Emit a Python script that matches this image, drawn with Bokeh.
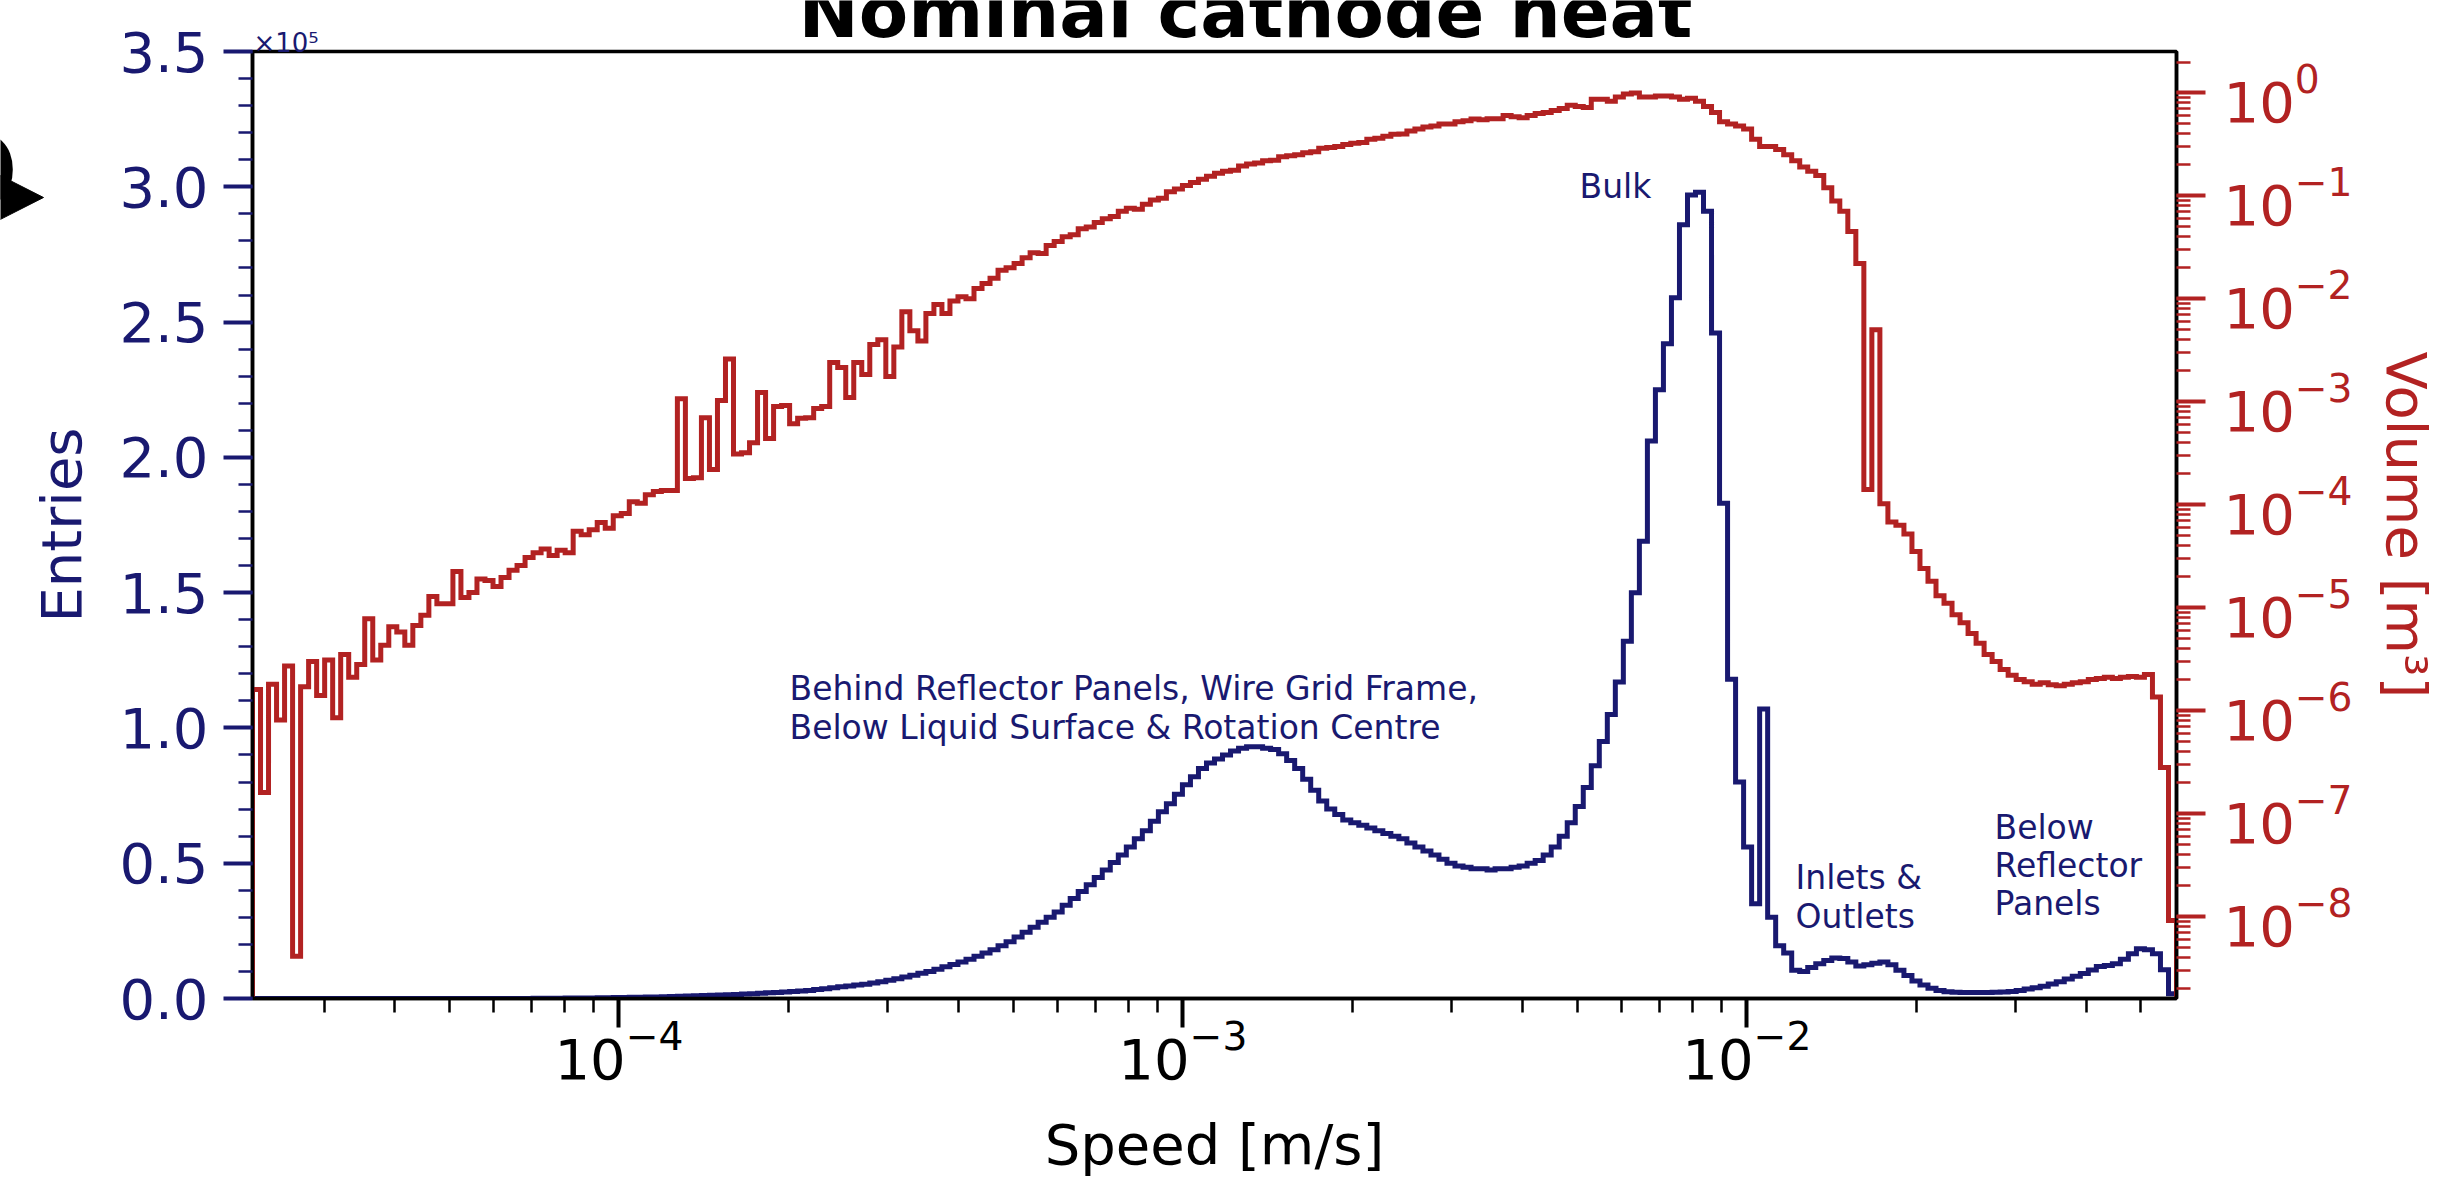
import numpy as np
from bokeh.plotting import figure
from bokeh.models import (Range1d, LogAxis, LogScale, FixedTicker, LogTicker,
                          NumeralTickFormatter, Label)
from bokeh.embed import file_html
from bokeh.resources import INLINE

# ---------------- data ----------------
speed_lo = 2.24e-5      # first bin edge [m/s]
speed_hi = 5.78e-2      # last bin edge [m/s]
n_bins = 240            # log-spaced bins

# Entries per bin, in units of 10^5
entries_e5 = [
    0, 0, 0, 0, 0, 0, 0, 0, 0, 0,
    0, 0, 0, 0, 0, 0, 0, 0, 0, 0,
    0, 0, 0, 0, 0, 0, 0, 0, 0, 0,
    0, 0, 0, 0, 0.0003, 0.0005, 0.0007, 0.001, 0.0012, 0.0015,
    0.0018, 0.002, 0.0023, 0.0026, 0.003, 0.0034, 0.0038, 0.0043, 0.0048, 0.0054,
    0.006, 0.0067, 0.0074, 0.0082, 0.009, 0.0098, 0.0107, 0.0117, 0.0128, 0.014,
    0.0152, 0.0165, 0.018, 0.0195, 0.021, 0.0226, 0.0243, 0.026, 0.028, 0.030,
    0.033, 0.036, 0.040, 0.043, 0.046, 0.050, 0.053, 0.057, 0.062, 0.067,
    0.073, 0.079, 0.086, 0.093, 0.100, 0.108, 0.117, 0.126, 0.135, 0.145,
    0.156, 0.168, 0.180, 0.195, 0.210, 0.227, 0.245, 0.263, 0.282, 0.300,
    0.320, 0.345, 0.370, 0.395, 0.420, 0.447, 0.475, 0.503, 0.530, 0.560,
    0.590, 0.620, 0.655, 0.690, 0.720, 0.755, 0.790, 0.820, 0.850, 0.870,
    0.885, 0.900, 0.915, 0.925, 0.930, 0.930, 0.925, 0.920, 0.905, 0.880,
    0.850, 0.810, 0.770, 0.730, 0.700, 0.680, 0.660, 0.650, 0.640, 0.630,
    0.620, 0.610, 0.600, 0.590, 0.575, 0.560, 0.545, 0.530, 0.515, 0.500,
    0.490, 0.485, 0.480, 0.480, 0.475, 0.480, 0.480, 0.485, 0.490, 0.500,
    0.510, 0.530, 0.560, 0.600, 0.650, 0.710, 0.780, 0.860, 0.950, 1.050,
    1.170, 1.320, 1.500, 1.690, 2.060, 2.250, 2.420, 2.590, 2.860, 2.970,
    2.980, 2.910, 2.460, 1.830, 1.180, 0.800, 0.560, 0.350, 1.070, 0.300,
    0.195, 0.168, 0.104, 0.100, 0.115, 0.128, 0.140, 0.150, 0.148, 0.135,
    0.120, 0.125, 0.130, 0.135, 0.125, 0.104, 0.085, 0.065, 0.050, 0.038,
    0.030, 0.025, 0.023, 0.022, 0.022, 0.022, 0.022, 0.023, 0.024, 0.026,
    0.030, 0.035, 0.040, 0.045, 0.054, 0.062, 0.072, 0.082, 0.092, 0.105,
    0.118, 0.122, 0.128, 0.145, 0.165, 0.184, 0.180, 0.165, 0.106, 0.018,
]

# Volume per bin [m^3]
volume_m3 = [
    1.6e-6, 1.6e-7, 1.8e-6, 8.1e-7, 2.7e-6, 4.1e-9, 1.7e-6, 3.0e-6, 1.4e-6, 3.1e-6,
    8.5e-7, 3.5e-6, 2.1e-6, 2.8e-6, 7.8e-6, 3.1e-6, 4.3e-6, 6.5e-6, 5.8e-6, 4.3e-6,
    6.7e-6, 8.4e-6, 1.28e-5, 1.09e-5, 1.09e-5, 2.24e-5, 1.25e-5, 1.4e-5, 1.9e-5, 1.83e-5,
    1.6e-5, 1.96e-5, 2.3e-5, 2.56e-5, 3.06e-5, 3.4e-5, 3.7e-5, 3.2e-5, 3.6e-5, 3.4e-5,
    5.5e-5, 5.1e-5, 5.7e-5, 6.7e-5, 5.9e-5, 7.8e-5, 8.2e-5, 1.07e-4, 1.03e-4, 1.25e-4,
    1.34e-4, 1.37e-4, 1.37e-4, 1.07e-3, 1.8e-4, 1.83e-4, 7.0e-4, 2.2e-4, 1.03e-3, 2.6e-3,
    3.1e-4, 3.2e-4, 4.0e-4, 1.23e-3, 4.4e-4, 9.0e-4, 9.2e-4, 6.1e-4, 6.9e-4, 7.0e-4,
    8.6e-4, 9.0e-4, 2.4e-3, 2.15e-3, 1.1e-3, 2.4e-3, 1.84e-3, 3.6e-3, 4.0e-3, 1.76e-3,
    3.4e-3, 7.5e-3, 4.9e-3, 3.9e-3, 7.2e-3, 8.8e-3, 7.2e-3, 9.5e-3, 1.05e-2, 1.0e-2,
    1.26e-2, 1.41e-2, 1.58e-2, 1.9e-2, 2.0e-2, 2.2e-2, 2.5e-2, 2.8e-2, 2.75e-2, 3.3e-2,
    3.6e-2, 4.0e-2, 4.2e-2, 4.8e-2, 5.0e-2, 5.5e-2, 6.0e-2, 6.3e-2, 7.1e-2, 7.6e-2,
    7.4e-2, 8.3e-2, 9.1e-2, 9.5e-2, 0.110, 0.117, 0.126, 0.135, 0.145, 0.155,
    0.166, 0.174, 0.178, 0.195, 0.204, 0.209, 0.219, 0.222, 0.240, 0.245,
    0.251, 0.263, 0.269, 0.290, 0.295, 0.302, 0.316, 0.324, 0.330, 0.355,
    0.363, 0.380, 0.398, 0.400, 0.427, 0.447, 0.468, 0.479, 0.501, 0.500,
    0.525, 0.537, 0.560, 0.550, 0.562, 0.562, 0.603, 0.589, 0.575, 0.603,
    0.631, 0.646, 0.676, 0.708, 0.759, 0.741, 0.724, 0.871, 0.871, 0.832,
    0.912, 0.977, 1.0, 0.912, 0.912, 0.933, 0.933, 0.912, 0.871, 0.891,
    0.832, 0.741, 0.646, 0.525, 0.501, 0.479, 0.447, 0.355, 0.302, 0.302,
    0.282, 0.251, 0.219, 0.191, 0.174, 0.158, 0.120, 0.089, 0.071, 0.045,
    0.022, 1.4e-4, 5.0e-3, 1.02e-4, 6.8e-5, 6.3e-5, 5.2e-5, 3.5e-5, 2.4e-5, 1.8e-5,
    1.3e-5, 1.1e-5, 8.5e-6, 7.1e-6, 5.6e-6, 4.5e-6, 3.5e-6, 3.0e-6, 2.5e-6, 2.2e-6,
    2.0e-6, 1.9e-6, 1.8e-6, 1.86e-6, 1.78e-6, 1.74e-6, 1.8e-6, 1.86e-6, 1.9e-6, 2.0e-6,
    2.04e-6, 2.1e-6, 2.04e-6, 2.1e-6, 2.14e-6, 2.1e-6, 2.24e-6, 1.35e-6, 2.8e-7, 9.1e-9,
]

entries_ticks = [0.0, 0.5, 1.0, 1.5, 2.0, 2.5, 3.0, 3.5]
entries_range = (0.0, 3.5)
volume_range = (1.59e-9, 2.53)

title_text = "Nominal cathode heat"
x_label = "Speed [m/s]"
y_label = "Entries"
y2_label = "Volume [m³]"
offset_text = "×10⁵"
annotations = {
    "bulk": ["Bulk"],
    "behind": ["Behind Reflector Panels, Wire Grid Frame,",
               "Below Liquid Surface & Rotation Centre"],
    "inlets": ["Inlets &", "Outlets"],
    "below": ["Below", "Reflector", "Panels"],
}

# ---------------- styles / positions (pixels) ----------------
BLUE = "#191970"
RED = "#B22222"
FONT = "DejaVu Sans"
W, H = 2444, 1179
FL, FR, FT, FB = 252, 2176, 51, 998   # frame edges

edges = np.logspace(np.log10(speed_lo), np.log10(speed_hi), n_bins + 1)


def step_outline(edges, vals, base):
    xs, ys = [edges[0]], [base]
    for i, v in enumerate(vals):
        xs += [edges[i], edges[i + 1]]
        ys += [v, v]
    xs.append(edges[-1])
    ys.append(base)
    return xs, ys


LOG_LO = np.log10(speed_lo)
LOG_SPAN = np.log10(speed_hi / speed_lo)


def xd(px):
    return 10 ** (LOG_LO + (px - FL) / (FR - FL) * LOG_SPAN)


def yd(py):
    return (FB - py) / (FB - FT) * (entries_range[1] - entries_range[0]) + entries_range[0]


p = figure(width=W, height=H, x_axis_type="log",
           x_range=Range1d(speed_lo, speed_hi),
           y_range=Range1d(*entries_range),
           output_backend="svg", toolbar_location=None,
           min_border_left=FL, min_border_right=W - FR,
           min_border_top=FT, min_border_bottom=H - FB)
p.extra_y_ranges = {"vol": Range1d(*volume_range)}
p.extra_y_scales = {"vol": LogScale()}
p.xgrid.visible = False
p.ygrid.visible = False
p.outline_line_color = "black"
p.outline_line_width = 3.5
p.background_fill_color = "white"
p.border_fill_color = "white"


def style_axis(ax, color):
    ax.axis_line_color = "black"
    ax.axis_line_width = 3.5
    ax.major_tick_line_color = color
    ax.major_tick_line_width = 4
    ax.major_tick_out = 29
    ax.major_tick_in = 0
    ax.minor_tick_line_color = color
    ax.minor_tick_line_width = 2.5
    ax.minor_tick_out = 14
    ax.minor_tick_in = 0
    ax.major_label_text_color = color
    ax.major_label_text_font = FONT
    ax.major_label_text_font_size = "56px"
    ax.axis_label_text_color = color
    ax.axis_label_text_font = FONT
    ax.axis_label_text_font_size = "56px"
    ax.axis_label_text_font_style = "normal"


# bottom axis
xax = p.xaxis[0]
xax.ticker = LogTicker(num_minor_ticks=10)
style_axis(xax, "black")
xax.axis_label = x_label
xax.major_label_standoff = -8
xax.axis_label_standoff = 30

# left axis
yax = p.yaxis[0]
yax.ticker = FixedTicker(ticks=entries_ticks,
                         minor_ticks=[round(0.1 * k, 1) for k in range(36)])
yax.formatter = NumeralTickFormatter(format="0.0")
style_axis(yax, BLUE)
yax.axis_label = y_label
yax.major_label_standoff = 15
yax.axis_label_standoff = 22

# right axis
rax = LogAxis(y_range_name="vol", ticker=LogTicker(num_minor_ticks=10))
style_axis(rax, RED)
rax.axis_label = y2_label
rax.major_label_standoff = 18
rax.axis_label_standoff = 18
p.add_layout(rax, "right")

# histograms
bx, by = step_outline(edges, entries_e5, 0.0)
p.line(bx, by, line_color=BLUE, line_width=5, line_join="miter")
rx, ry = step_outline(edges, volume_m3, volume_range[0] / 1000.0)
p.line(rx, ry, line_color=RED, line_width=5, line_join="miter", y_range_name="vol")


def add_text(fig, text, x, y, size="33px", color=BLUE, align="left", style="normal",
             baseline="alphabetic"):
    fig.add_layout(Label(x=x, y=y, text=text, text_font=FONT,
                         text_font_size=size, text_color=color, text_align=align,
                         text_baseline=baseline, text_font_style=style))


add_text(p, annotations["bulk"][0], xd(1579), yd(186))
for i, line in enumerate(annotations["behind"]):
    add_text(p, line, xd(789), yd(688 + 39 * i))
for i, line in enumerate(annotations["inlets"]):
    add_text(p, line, xd(1795), yd(877 + 39 * i))
for i, line in enumerate(annotations["below"]):
    add_text(p, line, xd(1994), yd(827 + 38 * i))

# ---------------- transparent overlay in canvas-pixel units ----------------
o = figure(width=W, height=H, x_range=Range1d(0, W), y_range=Range1d(H, 0),
           output_backend="svg", toolbar_location=None,
           x_axis_location=None, y_axis_location=None, min_border=0,
           styles={"position": "absolute", "top": "0px", "left": "0px",
                   "z-index": "10", "pointer-events": "none"})
o.xgrid.visible = False
o.ygrid.visible = False
o.outline_line_color = None
o.background_fill_color = None
o.border_fill_color = None

# title, cut by the top edge of the picture
add_text(o, title_text, 1245, 11, size="72px", color="black", align="center", style="bold")
# offset text of the left axis
add_text(o, offset_text, 253, 42, size="26px")
# pieces of a neighbouring panel at the left edge
add_text(o, "D", 18, 171, size="110px", color="black", align="right", style="bold")
TIP_X, TIP_Y, TRI_L, TRI_H = 43, 197, 63, 32
o.patch([TIP_X - TRI_L, TIP_X, TIP_X - TRI_L], [TIP_Y - TRI_H, TIP_Y, TIP_Y + TRI_H],
        fill_color="black", line_color="black", line_width=1)

open("out.html", "w").write(file_html([p, o], INLINE))
